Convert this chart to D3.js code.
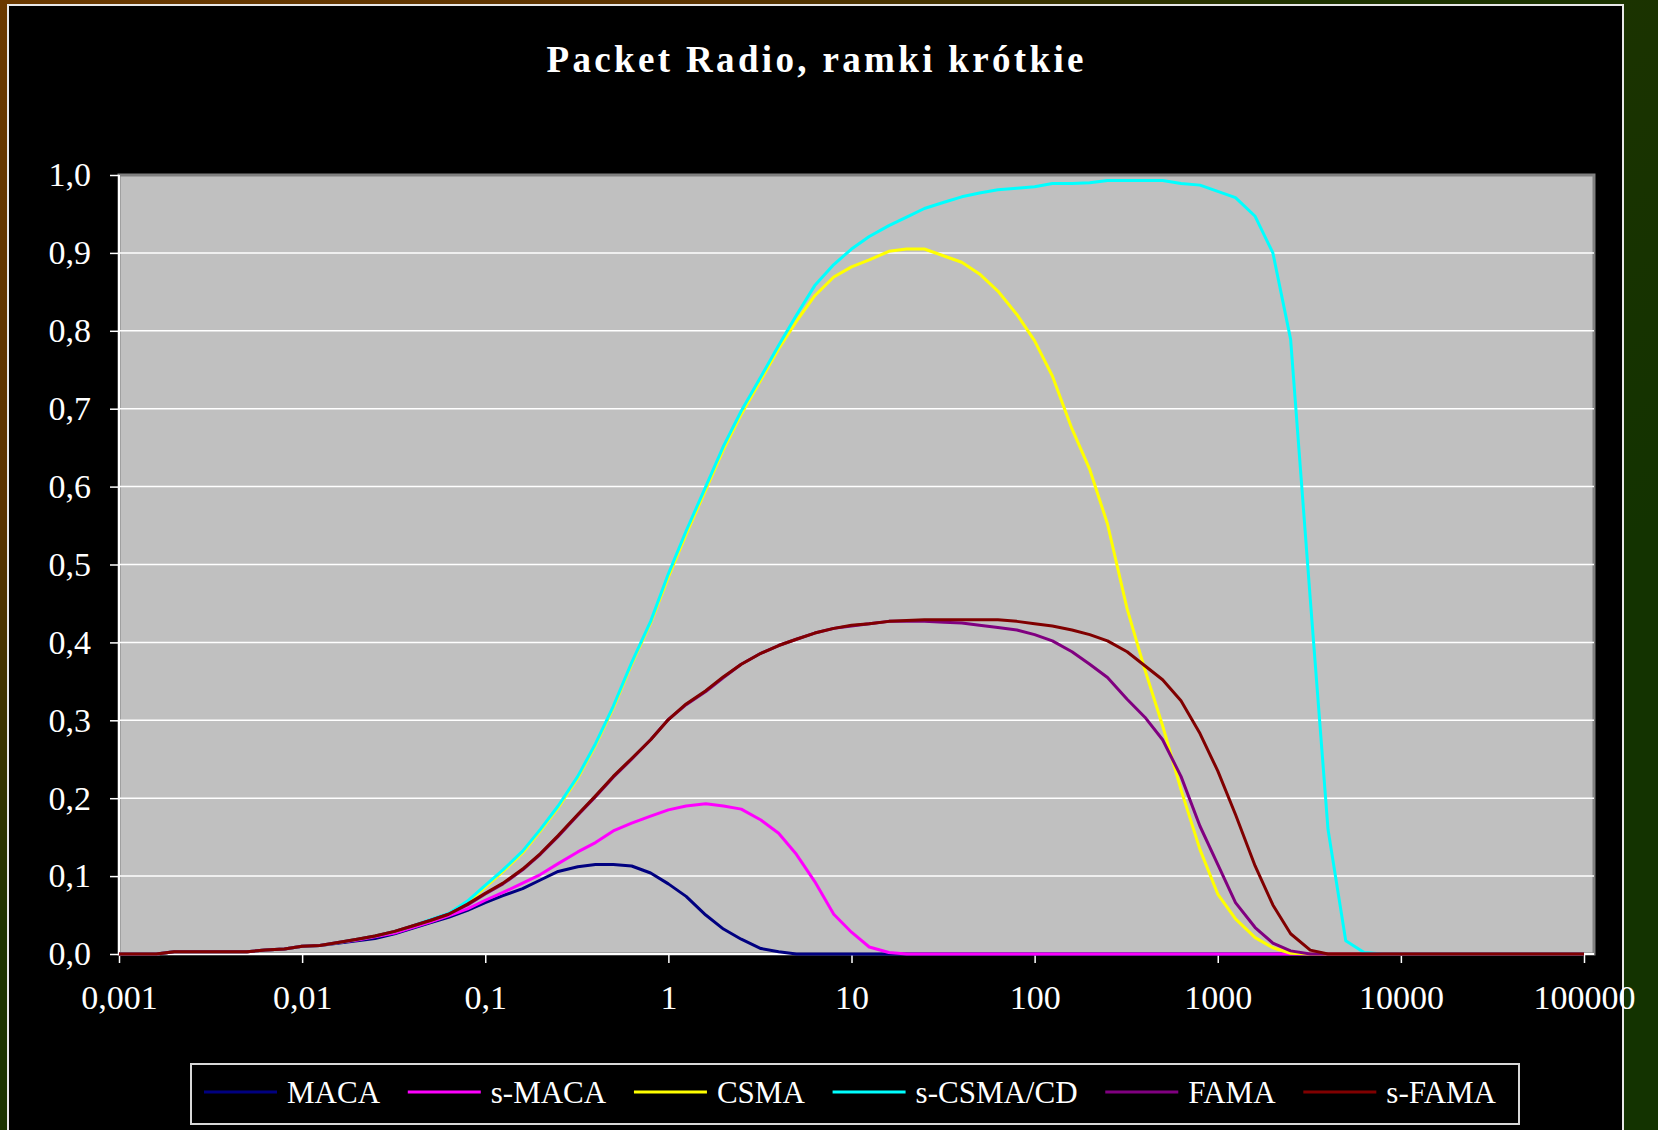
<!DOCTYPE html>
<html>
<head>
<meta charset="utf-8">
<script src="https://cdn.jsdelivr.net/npm/d3@7"></script>
<style>
  html, body { margin: 0; padding: 0; background: #000; }
  svg { display: block; }
  text { font-family: "Liberation Serif", "Times New Roman", serif; fill: #fff; }
</style>
</head>
<body>
<script>
// load values (x, log scale) shared by every series
var loads = [
	0.001, 0.00125, 0.0016, 0.002, 0.0025, 0.0032, 0.004, 0.005, 0.0063, 0.008,
	0.01, 0.0125, 0.016, 0.02, 0.025, 0.032, 0.04, 0.05, 0.063, 0.08,
	0.1, 0.125, 0.16, 0.2, 0.25, 0.32, 0.4, 0.5, 0.63, 0.8,
	1, 1.25, 1.6, 2, 2.5, 3.2, 4, 5, 6.3, 8,
	10, 12.5, 16, 20, 25, 32, 40, 50, 63, 80,
	100, 125, 160, 200, 250, 320, 400, 500, 630, 800,
	1000, 1250, 1600, 2000, 2500, 3200, 4000, 5000, 6300, 8000,
	10000, 12500, 16000, 20000, 25000, 32000, 40000, 50000, 63000, 80000,
	100000
];

var maca = [
	0, 0, 0, 0.003, 0.003, 0.003, 0.003, 0.003, 0.005, 0.0065,
	0.010, 0.011, 0.014, 0.017, 0.020, 0.026, 0.033, 0.040, 0.047, 0.056,
	0.066, 0.075, 0.084, 0.095, 0.106, 0.112, 0.115, 0.115, 0.113, 0.104,
	0.090, 0.074, 0.050, 0.032, 0.019, 0.007, 0.003, 0, 0, 0,
	0, 0, 0, 0, 0, 0, 0, 0, 0, 0,
	0, 0, 0, 0, 0, 0, 0, 0, 0, 0,
	0, 0, 0, 0, 0, 0, 0, 0, 0, 0,
	0, 0, 0, 0, 0, 0, 0, 0, 0, 0,
	0
];

var sMaca = [
	0, 0, 0, 0.003, 0.003, 0.003, 0.003, 0.003, 0.005, 0.0065,
	0.010, 0.011, 0.015, 0.018, 0.022, 0.027, 0.034, 0.041, 0.049, 0.058,
	0.069, 0.079, 0.091, 0.102, 0.116, 0.131, 0.143, 0.158, 0.168, 0.177,
	0.185, 0.190, 0.193, 0.190, 0.186, 0.172, 0.155, 0.128, 0.093, 0.051,
	0.028, 0.009, 0.002, 0, 0, 0, 0, 0, 0, 0,
	0, 0, 0, 0, 0, 0, 0, 0, 0, 0,
	0, 0, 0, 0, 0, 0, 0, 0, 0, 0,
	0, 0, 0, 0, 0, 0, 0, 0, 0, 0,
	0
];

var csma = [
	0, 0, 0, 0.003, 0.003, 0.003, 0.003, 0.003, 0.005, 0.0065,
	0.010, 0.011, 0.015, 0.019, 0.023, 0.029, 0.036, 0.043, 0.051, 0.066,
	0.086, 0.106, 0.130, 0.158, 0.188, 0.226, 0.268, 0.316, 0.372, 0.425,
	0.484, 0.539, 0.596, 0.648, 0.693, 0.737, 0.777, 0.812, 0.845, 0.869,
	0.882, 0.891, 0.902, 0.905, 0.905, 0.896, 0.888, 0.873, 0.851, 0.821,
	0.787, 0.742, 0.674, 0.622, 0.552, 0.443, 0.365, 0.293, 0.211, 0.134,
	0.077, 0.045, 0.021, 0.008, 0.001, 0, 0, 0, 0, 0,
	0, 0, 0, 0, 0, 0, 0, 0, 0, 0,
	0
];

var sCsmaCd = [
	0, 0, 0, 0.003, 0.003, 0.003, 0.003, 0.003, 0.005, 0.0065,
	0.010, 0.011, 0.015, 0.019, 0.023, 0.029, 0.036, 0.044, 0.052, 0.068,
	0.088, 0.108, 0.132, 0.160, 0.190, 0.228, 0.270, 0.318, 0.374, 0.427,
	0.488, 0.543, 0.600, 0.652, 0.697, 0.741, 0.781, 0.820, 0.858, 0.885,
	0.905, 0.921, 0.935, 0.946, 0.957, 0.965, 0.972, 0.977, 0.981, 0.983,
	0.985, 0.989, 0.989, 0.990, 0.993, 0.993, 0.993, 0.993, 0.989, 0.987,
	0.979, 0.971, 0.947, 0.900, 0.789, 0.456, 0.160, 0.017, 0.002, 0,
	0, 0, 0, 0, 0, 0, 0, 0, 0, 0,
	0
];

var fama = [
	0, 0, 0, 0.003, 0.003, 0.003, 0.003, 0.003, 0.005, 0.0065,
	0.010, 0.011, 0.015, 0.019, 0.023, 0.029, 0.036, 0.043, 0.051, 0.063,
	0.077, 0.090, 0.108, 0.128, 0.151, 0.178, 0.202, 0.227, 0.250, 0.275,
	0.301, 0.320, 0.337, 0.355, 0.372, 0.386, 0.396, 0.404, 0.412, 0.418,
	0.421, 0.424, 0.427, 0.427, 0.427, 0.426, 0.425, 0.422, 0.419, 0.416,
	0.410, 0.402, 0.388, 0.372, 0.355, 0.327, 0.304, 0.275, 0.228, 0.164,
	0.115, 0.066, 0.034, 0.014, 0.004, 0, 0, 0, 0, 0,
	0, 0, 0, 0, 0, 0, 0, 0, 0, 0,
	0
];

var sFama = [
	0, 0, 0, 0.003, 0.003, 0.003, 0.003, 0.003, 0.005, 0.0065,
	0.010, 0.011, 0.015, 0.019, 0.023, 0.029, 0.036, 0.043, 0.051, 0.064,
	0.078, 0.091, 0.109, 0.129, 0.152, 0.179, 0.203, 0.228, 0.251, 0.275,
	0.301, 0.321, 0.338, 0.356, 0.372, 0.386, 0.396, 0.404, 0.412, 0.418,
	0.422, 0.424, 0.427, 0.428, 0.429, 0.429, 0.429, 0.429, 0.429, 0.427,
	0.424, 0.421, 0.416, 0.410, 0.402, 0.388, 0.370, 0.352, 0.325, 0.283,
	0.235, 0.179, 0.113, 0.063, 0.026, 0.005, 0, 0, 0, 0,
	0, 0, 0, 0, 0, 0, 0, 0, 0, 0,
	0
];

var seriesNames = ["MACA", "s-MACA", "CSMA", "s-CSMA/CD", "FAMA", "s-FAMA"];
var seriesColors = ["#000080", "#ff00ff", "#ffff00", "#00ffff", "#800080", "#800000"];
var seriesValues = [maca, sMaca, csma, sCsmaCd, fama, sFama];

var xTicks = [0.001, 0.01, 0.1, 1, 10, 100, 1000, 10000, 100000];
var xTickLabels = ["0,001", "0,01", "0,1", "1", "10", "100", "1000", "10000", "100000"];
var yTicks = [0, 0.1, 0.2, 0.3, 0.4, 0.5, 0.6, 0.7, 0.8, 0.9, 1.0];
var yTickLabels = ["0,0", "0,1", "0,2", "0,3", "0,4", "0,5", "0,6", "0,7", "0,8", "0,9", "1,0"];

var chartTitle = "Packet Radio, ramki krótkie";

var W = 1658, H = 1130;
var plot = {left: 119, top: 175, right: 1594, bottom: 954};

var svg = d3.select("body").append("svg")
	.attr("width", W)
	.attr("height", H);

// background: brown to green slide gradient
var grad = svg.append("defs").append("linearGradient")
	.attr("id", "bg")
	.attr("gradientUnits", "userSpaceOnUse")
	.attr("x1", 0).attr("y1", 0)
	.attr("x2", 800).attr("y2", 1130);
grad.append("stop").attr("offset", 0).attr("stop-color", "#6a3900");
grad.append("stop").attr("offset", 0.3).attr("stop-color", "#5a3300");
grad.append("stop").attr("offset", 0.55).attr("stop-color", "#1e3300");
grad.append("stop").attr("offset", 1).attr("stop-color", "#133300");

svg.append("rect")
	.attr("width", W).attr("height", H)
	.attr("fill", "url(#bg)");

// black slide panel
svg.append("rect")
	.attr("x", 8).attr("y", 5)
	.attr("width", 1615).attr("height", H)
	.attr("fill", "#000")
	.attr("stroke", "#e8e8e8")
	.attr("stroke-width", 2);

// title
svg.append("text")
	.attr("x", 815)
	.attr("y", 72)
	.attr("text-anchor", "middle")
	.attr("textLength", 537)
	.attr("lengthAdjust", "spacing")
	.style("font-size", "37px")
	.style("font-weight", "bold")
	.text(chartTitle);

var x = d3.scaleLog()
	.domain([0.001, 100000])
	.range([plot.left, 1584]);

var y = d3.scaleLinear()
	.domain([0, 1])
	.range([plot.bottom, plot.top]);

// plot area
svg.append("rect")
	.attr("x", plot.left).attr("y", plot.top)
	.attr("width", plot.right - plot.left)
	.attr("height", plot.bottom - plot.top)
	.attr("fill", "#c0c0c0")
	.attr("stroke", "#808080")
	.attr("stroke-width", 3);

// gridlines
svg.append("g").selectAll("line")
	.data(yTicks.slice(1, -1))
	.enter()
	.append("line")
	.attr("x1", plot.left).attr("x2", plot.right)
	.attr("y1", function (d) { return y(d); })
	.attr("y2", function (d) { return y(d); })
	.attr("stroke", "#ffffff")
	.attr("stroke-width", 1.5);

// axes
var xAxis = d3.axisBottom(x)
	.tickValues(xTicks)
	.tickFormat(function (d, i) { return xTickLabels[i]; })
	.tickSizeInner(9)
	.tickSizeOuter(0)
	.tickPadding(22);

var yAxis = d3.axisLeft(y)
	.tickValues(yTicks)
	.tickFormat(function (d, i) { return yTickLabels[i]; })
	.tickSizeInner(9)
	.tickSizeOuter(0)
	.tickPadding(19);

var gx = svg.append("g")
	.attr("transform", "translate(0," + plot.bottom + ")")
	.call(xAxis);
var gy = svg.append("g")
	.attr("transform", "translate(" + plot.left + ",0)")
	.call(yAxis);

[gx, gy].forEach(function (g) {
	g.select(".domain").remove();
	g.selectAll(".tick line").attr("stroke", "#ffffff").attr("stroke-width", 1.5);
	g.selectAll(".tick text")
		.attr("fill", "#ffffff")
		.style("font-family", "'Liberation Serif', serif")
		.style("font-size", "34px");
});

svg.append("line")
	.attr("x1", plot.left).attr("x2", plot.left)
	.attr("y1", plot.top).attr("y2", plot.bottom)
	.attr("stroke", "#ffffff").attr("stroke-width", 2);
svg.append("line")
	.attr("x1", plot.left).attr("x2", plot.right)
	.attr("y1", plot.bottom).attr("y2", plot.bottom)
	.attr("stroke", "#ffffff").attr("stroke-width", 2);

// series
var line = d3.line()
	.x(function (d) { return x(d[0]); })
	.y(function (d) { return y(d[1]); });

svg.append("g").selectAll("path")
	.data(seriesValues)
	.enter()
	.append("path")
	.attr("d", function (vals) {
		return line(loads.map(function (l, i) { return [l, vals[i]]; }));
	})
	.attr("fill", "none")
	.attr("stroke", function (d, i) { return seriesColors[i]; })
	.attr("stroke-width", 3)
	.attr("stroke-linejoin", "round");

// legend
var legendBox = {x: 191, y: 1064, w: 1328, h: 60};
svg.append("rect")
	.attr("x", legendBox.x).attr("y", legendBox.y)
	.attr("width", legendBox.w).attr("height", legendBox.h)
	.attr("fill", "#000")
	.attr("stroke", "#d8d8d8")
	.attr("stroke-width", 2);

var sampleLen = 73, samplePad = 10;
var legend = svg.append("g").attr("class", "legend");
var items = legend.selectAll("g")
	.data(seriesNames)
	.enter()
	.append("g");

items.append("line")
	.attr("x1", 0).attr("x2", sampleLen)
	.attr("y1", 1092).attr("y2", 1092)
	.attr("stroke", function (d, i) { return seriesColors[i]; })
	.attr("stroke-width", 3);

items.append("text")
	.attr("x", sampleLen + samplePad)
	.attr("y", 1103)
	.style("font-size", "31px")
	.text(function (d) { return d; });

var widths = [];
items.each(function () {
	widths.push(sampleLen + samplePad + d3.select(this).select("text").node().getComputedTextLength());
});
var startX = 204, endX = 1496;
var gap = (endX - startX - d3.sum(widths)) / (widths.length - 1);
var cx = startX;
items.each(function (d, i) {
	d3.select(this).attr("transform", "translate(" + cx + ",0)");
	cx += widths[i] + gap;
});
</script>
</body>
</html>
